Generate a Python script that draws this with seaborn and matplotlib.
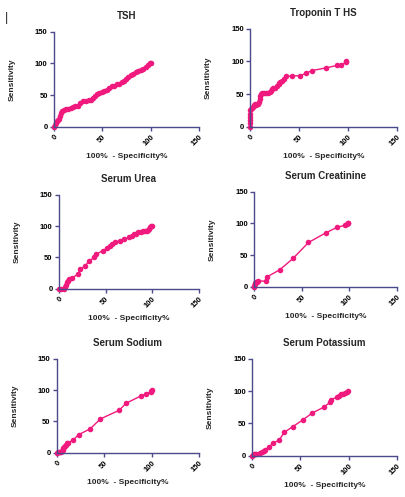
import matplotlib
matplotlib.use("Agg")
import matplotlib.pyplot as plt
import pandas as pd
import seaborn as sns

# ROC curves: x = 100% - specificity%, y = sensitivity
tsh_x = [0, 1, 2, 3, 4, 5, 6, 7, 8, 10, 12, 15, 18, 20, 22, 25, 27, 30, 33, 36, 38, 40, 42, 45, 47,
         50, 52, 55, 57, 60, 62, 65, 67, 70, 72, 75, 77, 80, 82, 85, 87, 90, 92, 95, 97, 99, 100]
tsh_y = [0, 3, 6, 9, 11, 13, 17, 22, 25, 26, 28, 28, 30, 31, 32, 33, 37, 40, 41, 42, 43, 46, 48, 51, 53,
         55, 56, 58, 61, 64, 65, 67, 68, 70, 73, 76, 78, 81, 84, 86, 88, 90, 92, 95, 98, 100, 100]

trop_x = [0, 0, 0, 0, 0, 0, 1, 2, 3, 4, 5, 6, 8, 9, 10, 10, 11, 12, 14, 16, 18, 20, 21, 22, 23, 25,
          27, 29, 30, 31, 33, 35, 37, 43, 51, 57, 63, 77, 89, 93, 98, 98]
trop_y = [0, 5, 10, 15, 20, 25, 27, 29, 31, 33, 35, 34, 35, 38, 42, 47, 50, 51, 52, 52, 52, 53, 55, 58, 60, 60,
          63, 65, 67, 69, 70, 73, 77, 78, 78, 82, 86, 90, 94, 94, 99, 100]

urea_x = [0, 2, 6, 7, 8, 9, 10, 11, 14, 20, 23, 28, 32, 38, 40, 47, 52, 55, 57, 60, 65, 70, 75, 78,
          80, 83, 85, 88, 90, 92, 94, 95, 97, 98, 99, 100]
urea_y = [0, 0, 0, 3, 6, 10, 13, 15, 17, 23, 31, 36, 44, 50, 55, 61, 65, 69, 72, 74, 77, 79, 82, 84,
          87, 88, 90, 91, 92, 92, 92, 94, 96, 98, 100, 100]

creat_x = [0, 0, 1, 1, 2, 3, 4, 12, 14, 27, 41, 57, 75, 87, 95, 97, 98, 99]
creat_y = [0, 2, 4, 6, 7, 8, 9, 9, 16, 27, 45, 70, 85, 94, 97, 99, 100, 100]

sodium_x = [0, 1, 2, 3, 4, 5, 6, 7, 8, 9, 10, 11, 12, 17, 23, 35, 46, 66, 73, 89, 94, 99, 99, 100]
sodium_y = [0, 1, 1, 1, 2, 3, 5, 7, 9, 11, 13, 15, 16, 20, 29, 38, 54, 68, 79, 91, 94, 97, 99, 100]

potas_x = [0, 1, 2, 3, 4, 8, 10, 12, 13, 17, 22, 28, 33, 42, 53, 62, 74, 81, 82, 88, 90, 92, 94, 96, 98, 99]
potas_y = [0, 1, 2, 3, 3, 4, 6, 8, 9, 13, 20, 24, 36, 45, 56, 66, 75, 83, 87, 91, 93, 95, 96, 97, 99, 100]

titles = ["TSH", "Troponin T HS", "Serum Urea", "Serum Creatinine", "Serum Sodium", "Serum Potassium"]
series = [(tsh_x, tsh_y), (trop_x, trop_y), (urea_x, urea_y),
          (creat_x, creat_y), (sodium_x, sodium_y), (potas_x, potas_y)]
ticks = [0, 50, 100, 150]

sns.set_style("ticks")
plt.rcParams['font.family'] = ['Liberation Sans', 'DejaVu Sans']

pink = "#f0197d"
navy = "#4b4b8c"

# axes boxes [left, bottom, width, height] in figure fraction
boxes = [[0.133, 0.745, 0.357, 0.191], [0.616, 0.745, 0.362, 0.197],
         [0.145, 0.419, 0.345, 0.189], [0.626, 0.423, 0.352, 0.191],
         [0.140, 0.089, 0.350, 0.189], [0.621, 0.083, 0.357, 0.195]]

fig = plt.figure(figsize=(4.06, 4.97), dpi=100)
fig.text(0.017, 0.975, "|", fontsize=9, ha="center", va="top")

for box, title, (xs, ys) in zip(boxes, titles, series):
    ax = fig.add_axes(box)
    df = pd.DataFrame({"x": xs, "y": ys})
    sns.lineplot(data=df, x="x", y="y", ax=ax, estimator=None, sort=False,
                 color=pink, linewidth=1.0, marker="o", markersize=4,
                 markeredgewidth=0, clip_on=False)
    ax.set_xlim(0, 150)
    ax.set_ylim(0, 150)
    ax.set_xticks(ticks)
    ax.set_yticks(ticks)
    ax.set_xticklabels([str(t) for t in ticks], rotation=45, ha="right",
                       rotation_mode="anchor", fontsize=5.5, fontweight="bold")
    ax.set_yticklabels([str(t) for t in ticks], fontsize=5.5, fontweight="bold")
    sns.despine(ax=ax)
    for s in ["left", "bottom"]:
        ax.spines[s].set_color(navy)
        ax.spines[s].set_linewidth(1.0)
    ax.tick_params(colors=navy, labelcolor="black", length=3, width=1.0, pad=1.5)
    ax.set_title(title, fontsize=7, fontweight="bold", pad=9)
    ax.set_xlabel("100%  - Specificity%", fontsize=6, fontweight="bold", labelpad=4)
    ax.set_ylabel("Sensitivity", fontsize=6, fontweight="bold", labelpad=14)

fig.savefig("out.png", dpi=100)
